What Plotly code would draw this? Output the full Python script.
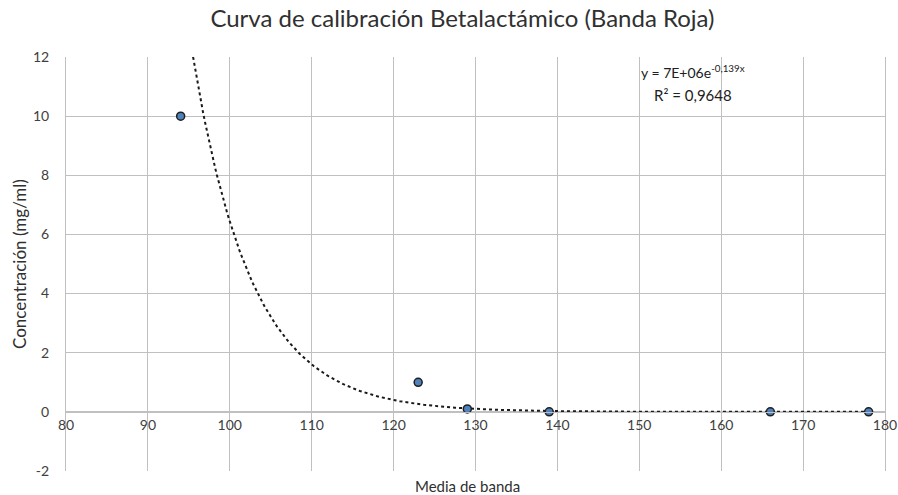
import numpy as np
import plotly.graph_objects as go

# Data
media_banda = [94, 123, 129, 139, 166, 178]
concentracion = [10, 1, 0.1, 0.0, 0.0, 0.0]

# Exponential trendline coefficients (y = a * e^(-b x))
trend_a = 7e6
trend_b = 0.139
trend_x = np.linspace(min(media_banda), max(media_banda), 400)
trend_y = trend_a * np.exp(-trend_b * trend_x)

x_ticks = list(range(80, 181, 10))
y_ticks = list(range(-2, 13, 2))
y_tick_labels = [str(v) for v in y_ticks]

font_family = "Lato, 'Open Sans', Arial, sans-serif"
grid_col = "#c0c0c0"
text_col = "#404040"

fig = go.Figure()
fig.add_trace(go.Scatter(
    x=trend_x, y=trend_y, mode="lines",
    line=dict(color="#1a1a1a", width=2, dash="dot"),
    showlegend=False, hoverinfo="skip"))
fig.add_trace(go.Scatter(
    x=media_banda, y=concentracion, mode="markers",
    marker=dict(color="#4f81bd", size=8, line=dict(color="#1f1f1f", width=1.5)),
    showlegend=False))

fig.update_layout(
    width=898, height=495,
    margin=dict(l=66, r=13, t=57, b=24, autoexpand=False),
    paper_bgcolor="white", plot_bgcolor="white",
    font=dict(family=font_family, color=text_col, size=14),
    title=dict(text="Curva de calibración Betalactámico (Banda Roja)",
               x=0.515, xanchor="center", y=0.962, yanchor="middle",
               font=dict(size=24, color="#303030")),
    xaxis=dict(range=[80, 180], tickvals=x_ticks, showgrid=True,
               gridcolor=grid_col, gridwidth=1, zeroline=False,
               showline=True, linecolor=grid_col, mirror=True,
               anchor="free", position=2/14, ticks="", ticklen=0,
               automargin=False,
               tickfont=dict(size=14, color=text_col)),
    yaxis=dict(range=[-2, 12], tickvals=y_ticks, ticktext=y_tick_labels,
               showgrid=True,
               gridcolor=grid_col, gridwidth=1, zeroline=True,
               zerolinecolor=grid_col, zerolinewidth=1,
               showline=True, linecolor=grid_col, mirror=True,
               ticks="", ticklabelstandoff=13, automargin=False,
               tickfont=dict(size=14, color=text_col)),
    annotations=[
        dict(text="Media de banda", xref="paper", yref="paper", x=0.49, y=-0.0355,
             xanchor="center", yanchor="middle", showarrow=False,
             font=dict(size=15, color="#303030")),
        dict(text="Concentración (mg/ml)", xref="paper", yref="paper", x=-0.0574, y=0.5,
             xanchor="center", yanchor="middle", textangle=-90, showarrow=False,
             font=dict(size=17, color="#303030")),
        dict(text="y = 7E+06e<sup>-0,139x</sup>", xref="x", yref="y", x=156.5, y=11.5,
             xanchor="center", yanchor="middle", showarrow=False,
             font=dict(size=14, color="#202020")),
        dict(text="R² = 0,9648", xref="x", yref="y", x=156.5, y=10.7,
             xanchor="center", yanchor="middle", showarrow=False,
             font=dict(size=15, color="#202020")),
    ],
)

fig.write_html("out.html",
               config={"displayModeBar": False},
               post_script="document.body.style.margin='0px';document.body.style.overflow='hidden';")
